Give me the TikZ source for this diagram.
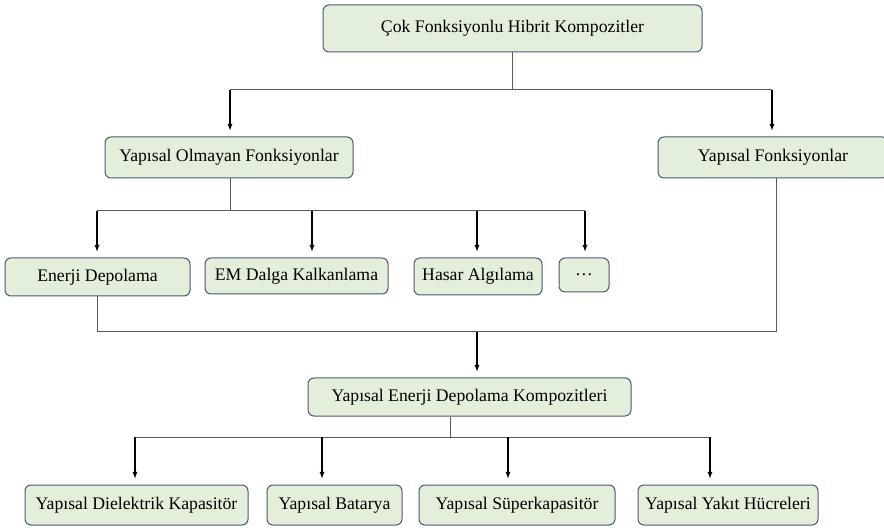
\documentclass[tikz,border=0pt]{standalone}
\usepackage{fontspec}
\setmainfont{Liberation Serif}
\usepackage{tikz}
\usetikzlibrary{positioning}

\definecolor{boxfill}{RGB}{227,239,218}
\definecolor{boxline}{RGB}{72,90,114}
\definecolor{linegray}{RGB}{90,90,90}

\tikzset{
    kutu/.style={draw=boxline, fill=boxfill, rounded corners=6pt, line width=1pt,
        inner sep=0pt, align=center, font=\fontsize{17.7}{20}\selectfont},
    hat/.style={draw=linegray, line width=1pt},
    ok/.style={->, >=latex, line width=1.3pt, shorten >=6pt}
}

\begin{document}
\begin{tikzpicture}[x=1pt, y=-1pt]

    \useasboundingbox (0,0) rectangle (884,529);

    \node[kutu, minimum width=379pt, minimum height=47pt] (cok) at (512.5,28.5) {Çok Fonksiyonlu Hibrit Kompozitler};

    \node[kutu, minimum width=248pt, minimum height=41pt] (olmayan) at (229,157.5) {Yapısal Olmayan Fonksiyonlar};
    \node[kutu, minimum width=230pt, minimum height=41pt] (yapisal) at (773,157.5) {Yapısal Fonksiyonlar};

    \node[kutu, minimum width=185pt, minimum height=38pt] (enerji) at (97.5,277) {Enerji Depolama};
    \node[kutu, minimum width=183pt, minimum height=36pt] (em) at (296.5,276) {EM Dalga Kalkanlama};
    \node[kutu, minimum width=128pt, minimum height=37pt] (hasar) at (478,276.5) {Hasar Algılama};
    \node[kutu, minimum width=50pt, minimum height=34pt] (diger) at (584,275) {\dots};

    \node[kutu, minimum width=323pt, minimum height=38pt] (sedk) at (469.5,397) {Yapısal Enerji Depolama Kompozitleri};

    \node[kutu, minimum width=223pt, minimum height=40pt] (dielektrik) at (136.5,505) {Yapısal Dielektrik Kapasitör};
    \node[kutu, minimum width=135pt, minimum height=40pt] (batarya) at (334.5,505) {Yapısal Batarya};
    \node[kutu, minimum width=196pt, minimum height=40pt] (super) at (517,505) {Yapısal Süperkapasitör};
    \node[kutu, minimum width=180pt, minimum height=40pt] (yakit) at (728,505) {Yapısal Yakıt Hücreleri};

    % baglanti noktalari
    \coordinate (b1) at (512,90);
    \coordinate (b2) at (230,211);
    \coordinate (b3) at (477,332);
    \coordinate (b4) at (450,437);

    \coordinate (o1) at (230,90);
    \coordinate (o2) at (772,90);
    \coordinate (e1) at (97,211);
    \coordinate (e2) at (312,211);
    \coordinate (e3) at (477,211);
    \coordinate (e4) at (585,211);
    \coordinate (d1) at (135,437);
    \coordinate (d2) at (322,437);
    \coordinate (d3) at (508,437);
    \coordinate (d4) at (710,437);

    \draw[hat] (cok.south -| b1) -- (b1);
    \draw[hat] (o1) -- (o2);
    \draw[ok] (o1) -- (o1 |- olmayan.north);
    \draw[ok] (o2) -- (o2 |- yapisal.north);

    \draw[hat] (olmayan.south -| b2) -- (b2);
    \draw[hat] (e1) -- (e4);
    \draw[ok] (e1) -- (e1 |- enerji.north);
    \draw[ok] (e2) -- (e2 |- em.north);
    \draw[ok] (e3) -- (e3 |- hasar.north);
    \draw[ok] (e4) -- (e4 |- diger.north);

    \draw[hat] (enerji.south -| e1) |- (b3);
    \draw[hat] (yapisal.south -| 776,0) |- (b3);
    \draw[ok] (b3) -- (b3 |- sedk.north);

    \draw[hat] (sedk.south -| b4) -- (b4);
    \draw[hat] (d1) -- (d4);
    \draw[ok] (d1) -- (d1 |- dielektrik.north);
    \draw[ok] (d2) -- (d2 |- batarya.north);
    \draw[ok] (d3) -- (d3 |- super.north);
    \draw[ok] (d4) -- (d4 |- yakit.north);

\end{tikzpicture}
\end{document}
